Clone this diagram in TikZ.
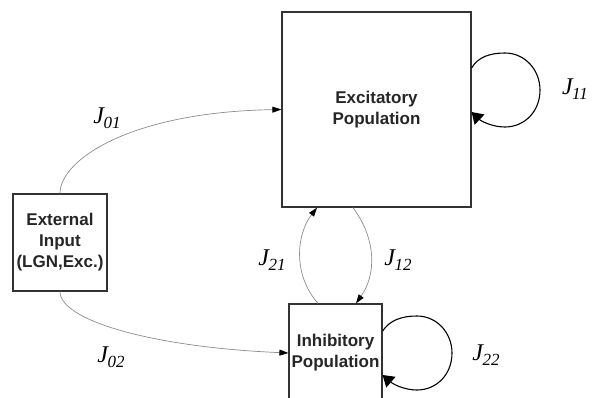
\documentclass[tikz,border=0pt]{standalone}
\usepackage{fontspec}
\setmainfont{Liberation Serif}
\setsansfont{Liberation Sans}
\usetikzlibrary{arrows.meta}

% coupling constant J with a lowered subscript
\newcommand\coupJ[1]{J\kern-0.5pt\raisebox{-5pt}{\fontsize{17}{17}\selectfont #1}}

\begin{document}
\begin{tikzpicture}[x=1pt,y=-1pt,
  popbox/.style={draw=black!80, line width=1.2pt, fill=white, inner sep=0pt,
    align=center, text=black!85,
    font=\sffamily\bfseries\fontsize{17}{21}\selectfont},
  link/.style={draw=black!45, line width=0.7pt,
    -{Triangle[length=9pt,width=6pt,color=black]}},
  selfloop/.style={draw=black, line width=1.1pt,
    -{Triangle[length=11pt,width=14pt]}},
  coup/.style={font=\fontsize{24}{26}\selectfont\itshape, inner sep=0pt}
]
\useasboundingbox (0,0) rectangle (592,397);

% populations
\node[popbox, minimum width=94pt, minimum height=97pt] (ext) at (60,242.5)
  {External\\Input\\(LGN,Exc.)};
\node[popbox, minimum width=189pt, minimum height=195pt] (exc) at (376.5,109.5)
  {Excitatory\\Population};
\node[popbox, minimum width=93pt, minimum height=98pt] (inh) at (335.5,353)
  {Inhibitory\\Population};

% feed-forward input
\draw[link] (ext.north) .. controls (60,160) and (130,112) .. (exc.west);
\draw[link] (ext.south) .. controls (60,320) and (150,347) .. (inh.west);

% recurrent coupling between populations
\draw[link] ([xshift=-17.5pt]inh.north) .. controls (293,275) and (296,235) .. ([xshift=-59.5pt]exc.south);
\draw[link] ([xshift=-23.5pt]exc.south) .. controls (377,240) and (376,275) .. ([xshift=20.5pt]inh.north);

% self-coupling loops
\draw[selfloop] ([yshift=41.5pt]exc.east)
  .. controls (478,57) and (490,53) .. (505,53)
  .. controls (525,53) and (540,70) .. (540,90)
  .. controls (540,112) and (524,127) .. (505,127)
  .. controls (492,127) and (481,121) .. ([yshift=-2.5pt]exc.east);
\draw[selfloop] ([yshift=22pt]inh.east)
  .. controls (390,320) and (402,316) .. (417,316)
  .. controls (437,316) and (452,333) .. (452,353)
  .. controls (452,375) and (436,390) .. (417,390)
  .. controls (404,390) and (393,384) .. ([yshift=-22pt]inh.east);

% coupling labels
\node[coup] (j01) at (107,118) {\coupJ{01}};
\node[coup] (j02) at (111,357) {\coupJ{02}};
\node[coup] (j11) at (575,89) {\coupJ{11}};
\node[coup] (j21) at (272,260) {\coupJ{21}};
\node[coup] (j12) at (398,260) {\coupJ{12}};
\node[coup] (j22) at (486,355) {\coupJ{22}};
\end{tikzpicture}
\end{document}
